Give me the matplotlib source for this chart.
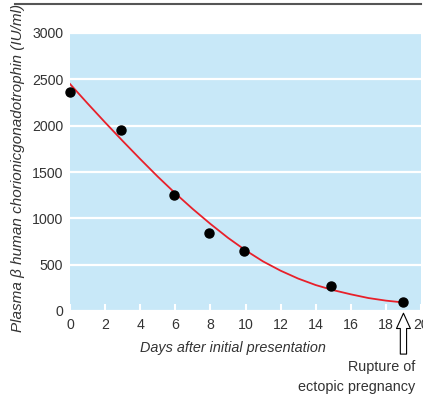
import matplotlib
matplotlib.use("Agg")
import matplotlib.pyplot as plt
from matplotlib.lines import Line2D

days = [0, 2.9, 5.95, 7.9, 9.9, 14.85, 19.0]
hcg = [2360, 1950, 1250, 845, 650, 272, 95]

curve_days = [0, 1, 2, 3, 4, 5, 6, 7, 8, 9, 10, 11, 12, 13, 14, 15, 16, 17, 18, 19]
curve_vals = [2450, 2240, 2035, 1835, 1640, 1450, 1270, 1100, 940, 790, 655,
              535, 435, 350, 280, 225, 180, 140, 112, 92]

xticks = [0, 2, 4, 6, 8, 10, 12, 14, 16, 18, 20]
yticks = [0, 500, 1000, 1500, 2000, 2500, 3000]

plt.rcParams['font.family'] = ['Liberation Sans', 'DejaVu Sans']
W, H = 423, 398
fig = plt.figure(figsize=(W / 100, H / 100), dpi=100)
ax = fig.add_axes([70 / W, 1 - 311 / H, (421 - 70) / W, (311 - 33) / H])
ax.set_facecolor('#c8e8f8')
for s in ax.spines.values():
    s.set_visible(False)
ax.set_xlim(0, 20)
ax.set_ylim(0, 3000)
ax.set_xticks(xticks)
ax.set_yticks(yticks)
ax.yaxis.grid(True, color='white', linewidth=1.6)
ax.set_axisbelow(True)
ax.tick_params(axis='y', length=0, pad=5, labelsize=10.2, labelcolor='#333333')
ax.tick_params(axis='x', direction='in', length=5, width=1.5, color='white',
               pad=5, labelsize=10.2, labelcolor='#333333')

ax.plot(curve_days, curve_vals, color='#e8202a', linewidth=1.3, zorder=3)
ax.plot(days, hcg, 'o', color='black', markersize=6.5, clip_on=False, zorder=4)

ax.set_xlabel('Days after initial presentation', fontstyle='italic', fontsize=10.4,
              color='#333333')
ax.xaxis.set_label_coords(0.465, -0.108)
ax.set_ylabel('Plasma β human chorionicgonadotrophin (IU/ml)', fontstyle='italic',
              fontsize=11, color='#333333')
ax.yaxis.set_label_coords(-0.128, 0.514)

ax.annotate('', xy=(19, -0.008), xytext=(19, -0.155),
            xycoords=('data', 'axes fraction'), textcoords=('data', 'axes fraction'),
            arrowprops=dict(arrowstyle='simple,head_width=1.0,head_length=1.1,tail_width=0.45',
                            fc='white', ec='black', lw=0.8, shrinkA=0, shrinkB=0),
            annotation_clip=False)
fig.text(415 / W, 1 - 367 / H, 'Rupture of', ha='right', va='center', fontsize=10.4,
         color='#333333')
fig.text(415 / W, 1 - 387 / H, 'ectopic pregnancy', ha='right', va='center', fontsize=10.4,
         color='#333333')

fig.add_artist(Line2D([15 / W, 421 / W], [1 - 3.5 / H, 1 - 3.5 / H], color='#555555',
                      linewidth=1.5))

fig.savefig('out.png', dpi=100)
